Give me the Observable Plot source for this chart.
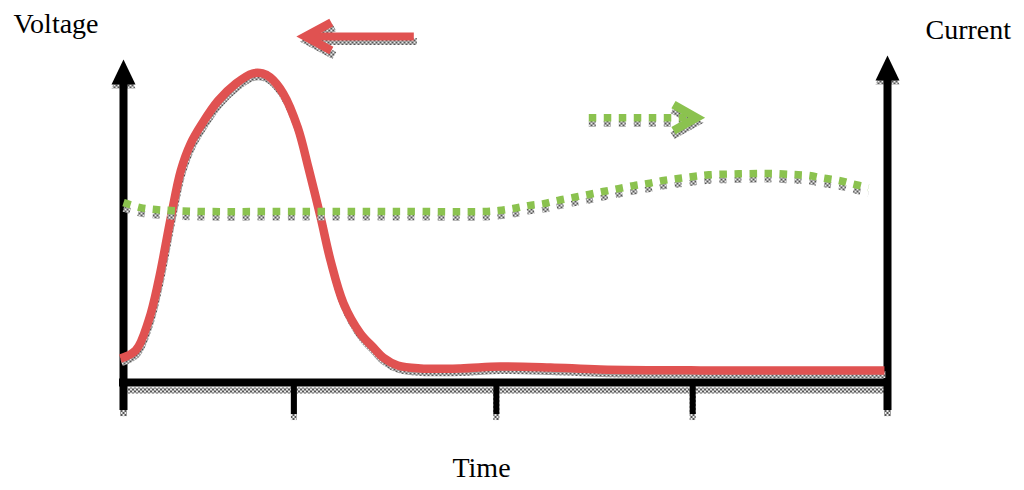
<!DOCTYPE html>
<html><head><meta charset="utf-8">
<script src="https://cdn.jsdelivr.net/npm/d3@7"></script>
<script src="https://cdn.jsdelivr.net/npm/@observablehq/plot@0.6"></script>
<style>body{margin:0;background:#fff} #chart{width:1024px;height:490px}</style>
</head><body><div id="chart"></div>
<script>
// ---- data (time on a 0–100 scale; voltage / current on a 0–100 scale) ----
const voltageTime  = [-0.4, 1.6, 3.3, 4.6, 6.2, 7.5, 8.8, 10.3, 12.4, 14.7, 16.9, 18.2, 19.2, 20.9, 22.8, 24.2, 25.8, 27.1, 28.8, 31.0, 32.7, 34.0, 35.9, 38.9, 44.1, 49.3, 55.9, 62.4, 75.5, 99.6];
const voltageValue = [7.3, 9.8, 19.0, 31.2, 50.5, 64.8, 73.1, 79.2, 86.2, 91.4, 94.5, 94.5, 93.3, 88.4, 78.0, 65.7, 50.5, 37.3, 24.2, 15.0, 10.7, 7.6, 5.2, 4.3, 4.3, 4.9, 4.6, 4.0, 3.7, 3.7];
const currentTime  = [0.0, 2.2, 4.2, 6.2, 10.1, 23.2, 36.3, 47.1, 49.1, 51.0, 53.0, 55.0, 56.9, 58.9, 60.9, 62.8, 64.8, 66.8, 68.7, 70.7, 72.6, 74.6, 76.6, 80.5, 84.4, 87.7, 89.7, 91.6, 93.6, 95.5, 97.5];
const currentValue = [55.0, 53.5, 52.9, 52.6, 52.3, 52.3, 52.3, 52.3, 52.6, 53.2, 54.1, 54.7, 55.7, 56.6, 57.5, 58.4, 59.3, 60.2, 60.9, 61.8, 62.4, 63.0, 63.5, 63.8, 63.9, 63.6, 63.3, 62.5, 61.8, 60.7, 59.6];
const tickTimes    = [22.3, 48.8, 74.5];
const axisTimes    = [0, 100];
const axisTops     = [98.8, 100.0];
const axisBottom   = -8.6;
const tickBottom   = -9.8;
// direction arrows: [start x, tip x, y]
const voltageArrow = [38.0, 23.8, 105.8];
const currentArrow = [60.9, 75.0, 81.0];
const labelTexts   = ["Voltage", "Current", "Time"];

// ---- tables ----
const voltage = voltageTime.map((t, i) => ({t, v: voltageValue[i]}));
const current = currentTime.map((t, i) => ({t, v: currentValue[i]}));
const axes = axisTimes.map((t, i) => ({t, top: axisTops[i]}));
const ticks = tickTimes.map(t => ({t}));
const vShaft = [{t: voltageArrow[0], v: voltageArrow[2]}, {t: voltageArrow[1], v: voltageArrow[2]}];
const cShaft = [{t: currentArrow[0], v: currentArrow[2]}, {t: currentArrow[1] - 1, v: currentArrow[2]}];
const vHead = [{t: voltageArrow[1], v: voltageArrow[2]}];
const cHead = [{t: currentArrow[1], v: currentArrow[2]}];

const RED = "#e05251", GREEN = "#8bc24f", HATCH = "url(#hatch)";
const triangleShape = {draw(ctx, l) { ctx.moveTo(0, -l); ctx.lineTo(12, -l + 25); ctx.lineTo(-12, -l + 25); ctx.closePath(); }};
const bigChevron    = {draw(ctx, l) { ctx.moveTo(-14, -l + 26); ctx.lineTo(0, -l); ctx.lineTo(14, -l + 26); }};
const chevronShape  = {draw(ctx, l) { ctx.moveTo(-13, -l + 23); ctx.lineTo(0, -l); ctx.lineTo(13, -l + 23); }};
const BUTT = {strokeLinecap: "butt"};

const chart = Plot.plot({
  width: 1024, height: 490,
  marginTop: 55, marginBottom: 108, marginLeft: 123, marginRight: 137,
  x: {domain: [0, 100], axis: null},
  y: {domain: [0, 100], axis: null},
  style: {fontFamily: "'Liberation Serif', 'Times New Roman', serif", background: "white", color: "black"},
  marks: [
    // axis shadows
    Plot.ruleY([0], {x1: 0.6, x2: 100, stroke: HATCH, strokeWidth: 6, dy: 8}),
    Plot.ruleX(axes, {x: "t", y1: axisBottom, y2: 0, stroke: HATCH, strokeWidth: 7, dy: 6}),
    Plot.ruleX(ticks, {x: "t", y1: tickBottom, y2: 0, stroke: HATCH, strokeWidth: 6, dy: 6}),
    Plot.vector(axes, {x: "t", y: "top", length: 25, anchor: "end", shape: triangleShape, fill: HATCH, stroke: "none", dy: 4}),
    // axes
    Plot.ruleY([0], {x1: 0, x2: 100, stroke: "black", strokeWidth: 8, strokeLinecap: "square"}),
    Plot.ruleX(axes, {x: "t", y1: axisBottom, y2: d => d.top - 4, stroke: "black", strokeWidth: 8}),
    Plot.ruleX(ticks, {x: "t", y1: tickBottom, y2: 0, stroke: "black", strokeWidth: 6}),
    Plot.vector(axes, {x: "t", y: "top", length: 25, anchor: "end", shape: triangleShape, fill: "black", stroke: "none"}),
    // voltage curve
    Plot.line(voltage, {x: "t", y: "v", stroke: HATCH, strokeWidth: 7, curve: "catmull-rom", dx: 1, dy: 4, ...BUTT}),
    Plot.line(voltage, {x: "t", y: "v", stroke: RED, strokeWidth: 8.5, curve: "catmull-rom", ...BUTT}),
    // current curve
    Plot.line(current, {x: "t", y: "v", stroke: HATCH, strokeWidth: 6, strokeDasharray: "7,8", curve: "catmull-rom", dy: 6, ...BUTT}),
    Plot.line(current, {x: "t", y: "v", stroke: GREEN, strokeWidth: 7.5, strokeDasharray: "7.5,7.5", curve: "catmull-rom", ...BUTT}),
    // voltage arrow
    Plot.line(vShaft, {x: "t", y: "v", stroke: HATCH, strokeWidth: 7, dx: 3, dy: 5, ...BUTT}),
    Plot.vector(vHead, {x: "t", y: "v", length: 30, rotate: -90, anchor: "end", shape: bigChevron, stroke: HATCH, strokeWidth: 8, strokeLinejoin: "miter", dx: 3, dy: 5, ...BUTT}),
    Plot.line(vShaft, {x: "t", y: "v", stroke: RED, strokeWidth: 8, ...BUTT}),
    Plot.vector(vHead, {x: "t", y: "v", length: 30, rotate: -90, anchor: "end", shape: bigChevron, stroke: RED, strokeWidth: 8.5, strokeLinejoin: "miter", ...BUTT}),
    // current arrow
    Plot.line(cShaft, {x: "t", y: "v", stroke: HATCH, strokeWidth: 6, strokeDasharray: "7,8", dy: 6, ...BUTT}),
    Plot.vector(cHead, {x: "t", y: "v", length: 25, rotate: 90, anchor: "end", shape: chevronShape, stroke: HATCH, strokeWidth: 8, strokeLinejoin: "miter", dx: -1, dy: 5, ...BUTT}),
    Plot.line(cShaft, {x: "t", y: "v", stroke: GREEN, strokeWidth: 7.5, strokeDasharray: "7.5,7.5", ...BUTT}),
    Plot.vector(cHead, {x: "t", y: "v", length: 25, rotate: 90, anchor: "end", shape: chevronShape, stroke: GREEN, strokeWidth: 8.5, strokeLinejoin: "miter", ...BUTT}),
    // labels
    Plot.text([labelTexts[0]], {frameAnchor: "top-left", textAnchor: "start", lineAnchor: "bottom", dx: -110, dy: -23, fontSize: 28, fill: "black"}),
    Plot.text([labelTexts[1]], {frameAnchor: "top-right", textAnchor: "start", lineAnchor: "bottom", dx: 38, dy: -17, fontSize: 28, fill: "black"}),
    Plot.text([labelTexts[2]], {frameAnchor: "bottom", textAnchor: "middle", lineAnchor: "bottom", dx: -24, dy: 94, fontSize: 28, fill: "black"})
  ]
});

// checkered shadow pattern
const defs = d3.select(chart).insert("defs", ":first-child");
const pat = defs.append("pattern").attr("id", "hatch").attr("width", 4).attr("height", 4).attr("patternUnits", "userSpaceOnUse");
pat.append("rect").attr("width", 4).attr("height", 4).attr("fill", "#ececec");
pat.append("rect").attr("width", 2).attr("height", 2).attr("fill", "#555");
pat.append("rect").attr("x", 2).attr("y", 2).attr("width", 2).attr("height", 2).attr("fill", "#555");

document.getElementById("chart").appendChild(chart);
</script></body></html>
